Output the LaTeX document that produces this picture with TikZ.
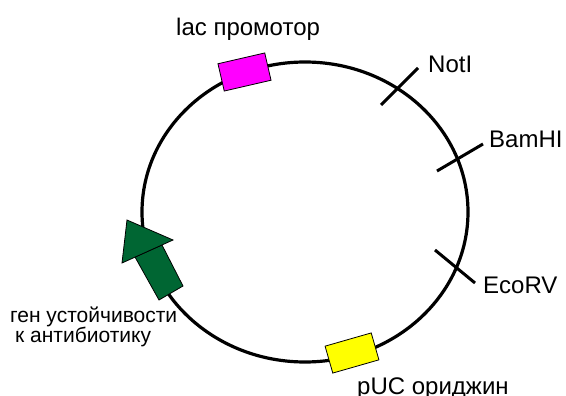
\documentclass[tikz,border=0pt]{standalone}
\usepackage{fontspec}
\setmainfont{Liberation Sans}
\definecolor{promotercol}{RGB}{255,0,255}
\definecolor{oricol}{RGB}{255,255,0}
\definecolor{genecol}{RGB}{0,102,51}
\begin{document}
\begin{tikzpicture}[x=1pt,y=-1pt,
    lbl/.style={anchor=base west,inner sep=0pt,font=\fontsize{24}{28}\selectfont},
    smalllbl/.style={anchor=base west,inner sep=0pt,font=\fontsize{21}{22}\selectfont},
    site/.style={line width=3pt},
    featurebox/.style={draw=black,line width=0.8pt,inner sep=0pt,%
      minimum width=48pt,minimum height=28pt}]
  \useasboundingbox (0,0) rectangle (566,396);
  % plasmid backbone
  \draw[line width=3.2pt] (305,212) ellipse [x radius=163, y radius=150];
  % promoter and origin
  \node[featurebox,fill=promotercol,rotate=13] (lac) at (244.5,72) {};
  \node[featurebox,fill=oricol,rotate=16] (ori) at (352,353) {};
  % resistance gene
  \filldraw[fill=genecol,line width=0.8pt] %
    (159,300) -- (135,257) -- (162,245) -- (183,286) -- cycle;
  \filldraw[fill=genecol,line width=0.8pt] %
    (122,263) -- (127,220) -- (173,240) -- cycle;
  % restriction sites
  \draw[site] (381,105) -- (418,68);
  \draw[site] (437,171) -- (483,144);
  \draw[site] (435,250) -- (475,283);
  % labels
  \node[lbl] (laclbl) at (176,36) {lac промотор};
  \node[lbl] (notlbl) at (428,73) {NotI};
  \node[lbl] (bamlbl) at (489,147) {BamHI};
  \node[lbl] (ecolbl) at (483,293) {EcoRV};
  \node[lbl] (orilbl) at (357,394) {pUC ориджин};
  \node[smalllbl] (reslbl) at (10,322) {ген устойчивости};
  \node[smalllbl] (reslblb) at (15,342) {к антибиотику};
\end{tikzpicture}
\end{document}
